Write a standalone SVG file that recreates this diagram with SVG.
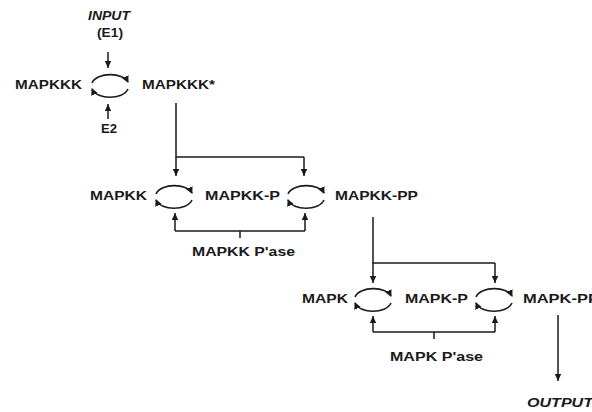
<svg xmlns="http://www.w3.org/2000/svg" xmlns:xlink="http://www.w3.org/1999/xlink" width="592" height="412" viewBox="0 0 592 412">
<style>
text{font-family:"Liberation Sans",Arial,Helvetica,sans-serif;font-weight:bold;font-size:12.5px;fill:#1a1a1a}
.it{font-style:italic}
.ln{fill:none;stroke:#1a1a1a;stroke-width:1.5}
.ar{marker-end:url(#ah)}
.cy{fill:none;stroke:#1a1a1a;stroke-width:1.6;marker-end:url(#ahs)}
</style>
<defs>
<marker id="ah" markerUnits="userSpaceOnUse" markerWidth="8" markerHeight="8" refX="7" refY="4" orient="auto" viewBox="0 0 8 8"><path d="M0,0.8 L7,4 L0,7.2 Z" fill="#1a1a1a"/></marker>
<marker id="ahs" markerUnits="userSpaceOnUse" markerWidth="8" markerHeight="8" refX="6" refY="4" orient="auto" viewBox="0 0 8 8"><path d="M0,0.5 L7,4 L0,7.5 Z" fill="#1a1a1a"/></marker>
<g id="cycle">
<path class="cy" d="M-18,-1 C-13,-12 13,-12 18,-2"/>
<path class="cy" d="M18,5 C13,16 -13,16 -18,5"/>
</g>
</defs>
<g id="input"><text class="it" x="109" y="20" text-anchor="middle" textLength="42" lengthAdjust="spacingAndGlyphs">INPUT</text><text x="110" y="37" text-anchor="middle" textLength="26" lengthAdjust="spacingAndGlyphs">(E1)</text></g>
<g id="e2"><text x="109" y="133" text-anchor="middle" textLength="16" lengthAdjust="spacingAndGlyphs">E2</text></g>
<g id="mapkkk"><text x="15" y="89" textLength="67" lengthAdjust="spacingAndGlyphs">MAPKKK</text></g>
<g id="mapkkk-star"><text x="142" y="89" textLength="73" lengthAdjust="spacingAndGlyphs">MAPKKK*</text></g>
<g id="mapkk"><text x="90" y="200" textLength="57" lengthAdjust="spacingAndGlyphs">MAPKK</text></g>
<g id="mapkk-p"><text x="205" y="200" textLength="75" lengthAdjust="spacingAndGlyphs">MAPKK-P</text></g>
<g id="mapkk-pp"><text x="335" y="200" textLength="83" lengthAdjust="spacingAndGlyphs">MAPKK-PP</text></g>
<g id="mapkk-pase"><text x="192" y="256" textLength="103" lengthAdjust="spacingAndGlyphs">MAPKK P'ase</text></g>
<g id="mapk"><text x="302" y="303" textLength="46" lengthAdjust="spacingAndGlyphs">MAPK</text></g>
<g id="mapk-p"><text x="405" y="303" textLength="63" lengthAdjust="spacingAndGlyphs">MAPK-P</text></g>
<g id="mapk-pp"><text x="523" y="303" textLength="76" lengthAdjust="spacingAndGlyphs">MAPK-PP</text></g>
<g id="mapk-pase"><text x="390" y="361" textLength="93" lengthAdjust="spacingAndGlyphs">MAPK P'ase</text></g>
<g id="output"><text class="it" x="527" y="407" textLength="66" lengthAdjust="spacingAndGlyphs">OUTPUT</text></g>
<g id="connectors">
<use xlink:href="#cycle" x="110" y="84"/>
<use xlink:href="#cycle" x="174" y="195"/>
<use xlink:href="#cycle" x="306" y="195"/>
<use xlink:href="#cycle" x="373" y="298"/>
<use xlink:href="#cycle" x="494" y="298"/>
<path class="ln ar" d="M108,52 V68"/>
<path class="ln ar" d="M108,119 V104"/>
<path class="ln" d="M176,103 V157 H304"/>
<path class="ln ar" d="M176,157 V176"/>
<path class="ln ar" d="M304,157 V176"/>
<path class="ln" d="M175,231 H305 M240,231 V238"/>
<path class="ln ar" d="M175,231 V213"/>
<path class="ln ar" d="M305,231 V213"/>
<path class="ln" d="M373,217 V263 H495"/>
<path class="ln ar" d="M373,263 V283"/>
<path class="ln ar" d="M495,263 V283"/>
<path class="ln" d="M373,332 H495 M434,332 V339"/>
<path class="ln ar" d="M373,332 V316"/>
<path class="ln ar" d="M495,332 V316"/>
<path class="ln ar" d="M558,315 V381"/>
</g>
</svg>
